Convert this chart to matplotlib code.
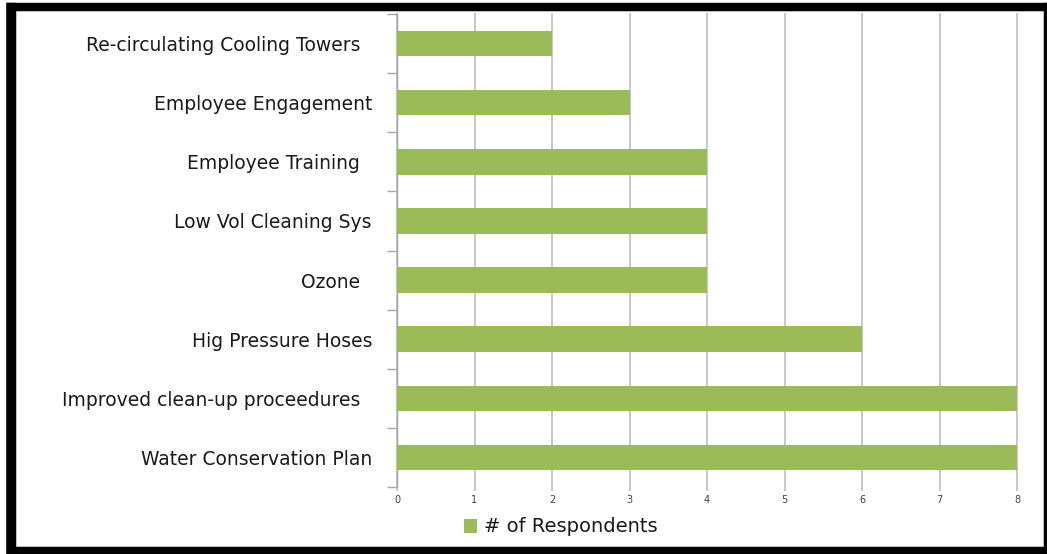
import matplotlib.pyplot as plt
from matplotlib.patches import Rectangle
from matplotlib.ticker import FixedLocator

# survey results, listed bottom to top
practices = ['Water Conservation Plan', 'Improved clean-up proceedures  ', 'Hig Pressure Hoses',
             'Ozone  ', 'Low Vol Cleaning Sys', 'Employee Training  ', 'Employee Engagement',
             'Re-circulating Cooling Towers  ']
respondents = [8, 8, 6, 4, 4, 4, 3, 2]
xticks = [0, 1, 2, 3, 4, 5, 6, 7, 8]

green = '#9BBB59'
plt.rcParams['font.family'] = ['DejaVu Sans']

fig = plt.figure(figsize=(10.47, 5.54), dpi=100)
ax = fig.add_axes([397 / 1047, 1 - 487 / 554, 620 / 1047, 473 / 554])

ypos = list(range(len(practices)))
ax.barh(ypos, respondents, height=0.43, color=green, label='# of Respondents', zorder=3)

ax.set_xlim(0, 8)
ax.set_ylim(-0.5, len(practices) - 0.5)
ax.set_xticks(xticks)
ax.set_xticklabels([str(t) for t in xticks], fontsize=7, color='#404040')
ax.set_yticks(ypos)
ax.set_yticklabels(practices, fontsize=13.5, color='#1a1a1a')
ax.yaxis.set_minor_locator(FixedLocator([p - 0.5 for p in ypos] + [len(practices) - 0.5]))
ax.tick_params(axis='y', which='major', length=0, pad=18)
ax.tick_params(axis='y', which='minor', length=7, width=1, color='#a6a6a6')
ax.tick_params(axis='x', length=3, width=1.4, color='#c8c8c8', pad=3)

ax.grid(axis='x', color='#c8c8c8', linewidth=1.4, zorder=0)
for gl in ax.get_xgridlines():
    gl.set_clip_on(False)
for side in ['top', 'right', 'bottom']:
    ax.spines[side].set_visible(False)
ax.spines['left'].set_color('#a6a6a6')
ax.spines['left'].set_linewidth(1)

fig.legend(loc='center left', bbox_to_anchor=(446 / 1047, 1 - 527 / 554), frameon=False,
           fontsize=14, handlelength=0.7, handleheight=0.7, handletextpad=0.35,
           labelcolor='#1a1a1a')

# black picture frame around the chart
W, H = 1047, 554
for x0, y0, w, h in [(0, 3, W, 7), (5, 3, 10, H - 3), (W - 3, 3, 3, H - 3), (5, H - 7, W - 5, 7)]:
    fig.add_artist(Rectangle((x0 / W, 1 - (y0 + h) / H), w / W, h / H,
                             transform=fig.transFigure, color='black', zorder=10))
fig.add_artist(Rectangle((0, 0), 5 / W, 1, transform=fig.transFigure,
                         color='white', zorder=11))
# thin grey line inside the frame
fig.add_artist(Rectangle((15 / W, 7 / H), (W - 18) / W, (H - 17) / H, transform=fig.transFigure,
                         fill=False, edgecolor='#b0b0b0', linewidth=1, zorder=9))

fig.savefig('out.png', dpi=100)
